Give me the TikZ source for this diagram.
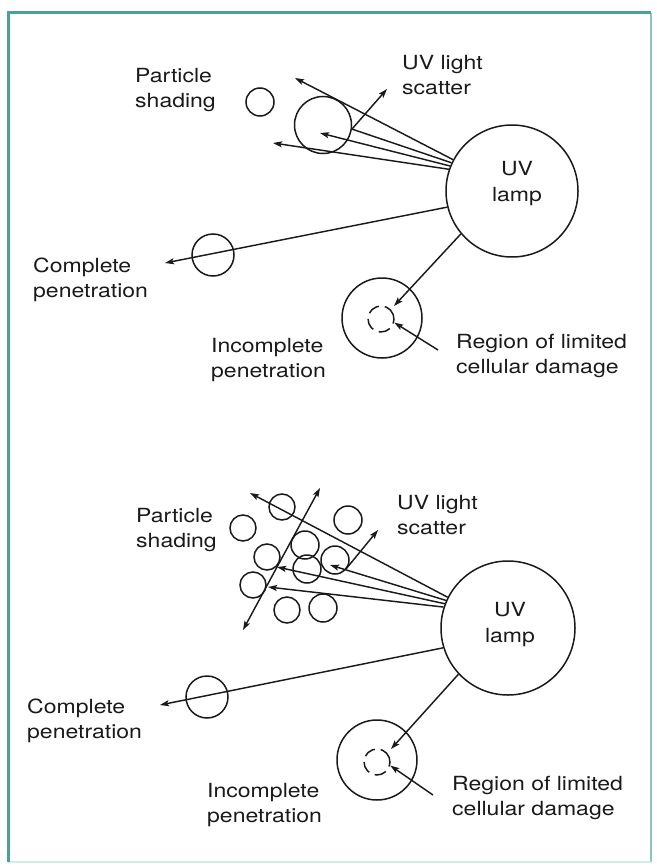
\documentclass[tikz,border=0pt]{standalone}
\usepackage{fontspec}
\setmainfont[FakeStretch=1.18]{TeX Gyre Heros}
\usetikzlibrary{arrows.meta}
\definecolor{frameteal}{HTML}{4E9E9C}
\definecolor{frameside}{HTML}{8CC6C3}
\definecolor{framelow}{HTML}{CFEDEC}
\definecolor{ink}{HTML}{1A1A1A}
\begin{document}
\begin{tikzpicture}[x=1pt,y=-1pt,
  ray/.style={draw=ink,line width=1.45pt},
  arr/.style={ray,-{Stealth[length=9pt,width=6pt,inset=1.8pt]}},
  part/.style={circle,draw=ink,line width=1.5pt,inner sep=0pt},
  lamp/.style={part,minimum size=132pt},
  dmg/.style={circle,draw=ink,line width=1.5pt,dash pattern=on 12pt off 6pt,inner sep=0pt,minimum size=26pt},
  lbl/.style={font=\fontsize{19.5}{25}\selectfont,text=ink,align=left,anchor=west,inner sep=0pt},
  lamptxt/.style={font=\fontsize{19.5}{26}\selectfont,text=ink,align=center,inner sep=0pt}]
\useasboundingbox (0,0) rectangle (656,867);
\fill[white] (0,0) rectangle (656,867);
% frame
\draw[frameside,line width=2.5pt] (651,13) -- (651,862);
\draw[framelow,line width=2.5pt] (8,862) -- (651,862);
\draw[frameteal,line width=3pt] (8,862) -- (8,13) -- (651,13);

% ---------- upper panel: single particle ----------
\node[lamp] (lampA) at (512,191) {};
\node[lamptxt] (lampAtxt) at (517,184) {UV\\lamp};
\node[part,minimum size=28pt] (pA1) at (260,102) {};
\node[part,minimum size=57pt] (pA2) at (323,125) {};
\coordinate (tA1) at (295,78);
\coordinate (tA3) at (320,133);
\coordinate (tA4) at (273,143);
\coordinate (sA) at (387,89);
\draw[arr] (lampA.152) -- (tA1);
\draw[ray] (lampA.155) -- (pA2.-8);
\draw[arr] (lampA.158) -- (tA3);
\draw[arr] (lampA.161) -- (tA4);
\draw[arr] (pA2.-8) -- (sA);

\node[part,minimum size=42pt] (pA3) at (213,255) {};
\coordinate (tA5) at (165,263);
\draw[arr] (lampA.194) -- (tA5);

\node[part,minimum size=80pt] (cA) at (382,318) {};
\node[dmg,rotate=20] (dA) at (381,319) {};
\coordinate (tA6) at (394,306);
\draw[arr] (lampA.220) -- (tA6);
\coordinate (rA) at (438,350);
\draw[arr] (rA) -- (dA.-35);

\node[lbl] (psA) at (135,90) {Particle\\shading};
\node[lbl] (usA) at (402,75) {UV light\\scatter};
\node[lbl] (cpA) at (33,280) {Complete\\penetration};
\node[lbl] (ipA) at (211,360) {Incomplete\\penetration};
\node[lbl] (rgA) at (456,356) {Region of limited\\cellular damage};

% ---------- lower panel: particle cluster ----------
\node[lamp,minimum size=134pt] (lampB) at (508,628) {};
\node[lamptxt] (lampBtxt) at (510,625) {UV\\lamp};
\node[part,minimum size=26pt] (pB1) at (282,507) {};
\node[part,minimum size=28pt] (pB2) at (348,520) {};
\node[part,minimum size=26pt] (pB3) at (243,528) {};
\node[part,minimum size=28pt] (pB4) at (305,545) {};
\node[part,minimum size=26pt] (pB5) at (267,557) {};
\node[part,minimum size=28pt] (pB6) at (335,560) {};
\node[part,minimum size=28pt] (pB7) at (307,569) {};
\node[part,minimum size=26pt] (pB8) at (253,585) {};
\node[part,minimum size=26pt] (pB9) at (287,610) {};
\node[part,minimum size=28pt] (pB10) at (323,608) {};
\coordinate (tB1) at (250,493);
\coordinate (tB2) at (277,567);
\coordinate (tB3) at (268,587);
\coordinate (tB4) at (330,565);
\coordinate (sB1) at (320,488);
\coordinate (sB2) at (243,630);
\coordinate (eB) at (346,569);
\coordinate (sB3) at (378,530);
\draw[arr] (lampB.153) -- (tB1);
\draw[arr] (lampB.156) -- (tB4);
\draw[arr] (lampB.159) -- (tB2);
\draw[arr] (lampB.162) -- (tB3);
\draw[arr] (tB2) -- (sB1);
\draw[arr] (tB2) -- (sB2);
\draw[arr] (eB) -- (sB3);

\node[part,minimum size=42pt] (pB11) at (207,697) {};
\coordinate (tB5) at (160,705);
\draw[arr] (lampB.197) -- (tB5);

\node[part,minimum size=80pt] (cB) at (377,760) {};
\node[dmg,rotate=20] (dB) at (377,762) {};
\coordinate (tB6) at (391,749);
\draw[arr] (lampB.223) -- (tB6);
\coordinate (rB) at (433,795);
\draw[arr] (rB) -- (dB.-35);

\node[lbl] (psB) at (136,530) {Particle\\shading};
\node[lbl] (usB) at (397,515) {UV light\\scatter};
\node[lbl] (cpB) at (27,721) {Complete\\penetration};
\node[lbl] (ipB) at (207,805) {Incomplete\\penetration};
\node[lbl] (rgB) at (452,798) {Region of limited\\cellular damage};
\end{tikzpicture}
\end{document}
